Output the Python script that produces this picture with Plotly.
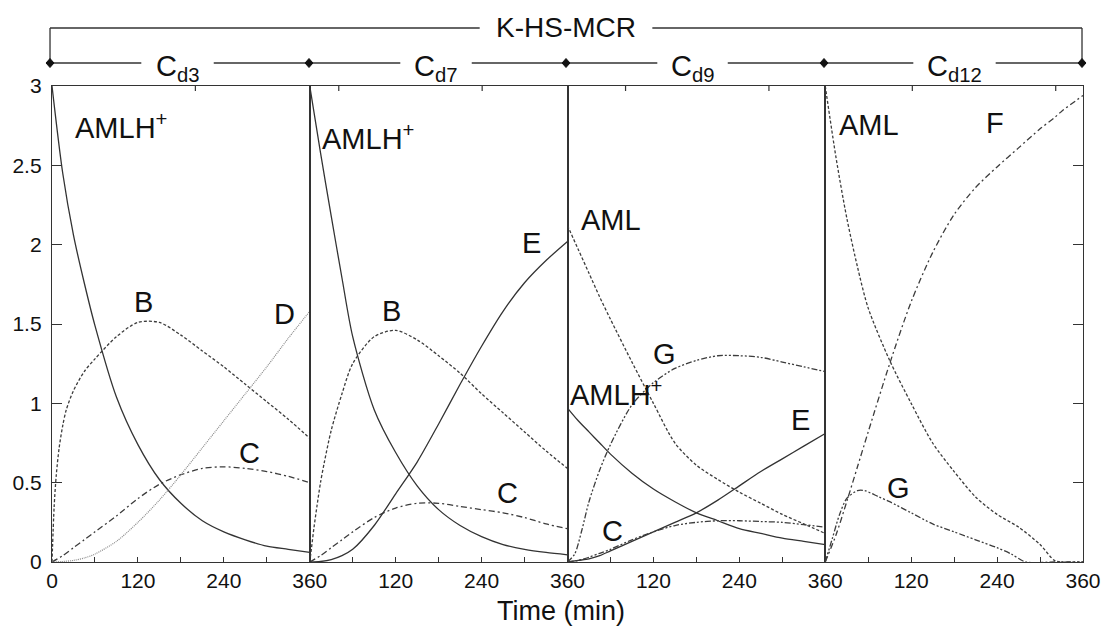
import plotly.graph_objects as go

# ---------------- data ----------------
T = [0, 15, 30, 45, 60, 90, 120, 150, 180, 210, 240, 270, 300, 330, 360]
T_FAST = [0, 3, 6, 10, 15, 20, 30, 45, 60, 90, 120, 150, 180, 210, 240, 270, 300, 330, 360]

# Panel Cd3
p1_AMLH = [3.0, 2.45, 2.06, 1.76, 1.49, 1.04, 0.74, 0.52, 0.37, 0.26, 0.19, 0.14, 0.10, 0.08, 0.06]
p1_B = [0, 0.35, 0.55, 0.72, 0.86, 0.96, 1.08, 1.20, 1.28, 1.42, 1.51, 1.51, 1.43, 1.33, 1.23, 1.12, 1.01, 0.90, 0.78]
p1_C = [0, 0.04, 0.09, 0.14, 0.19, 0.29, 0.40, 0.49, 0.55, 0.59, 0.60, 0.59, 0.57, 0.54, 0.50]
p1_D = [0, 0.003, 0.01, 0.025, 0.05, 0.13, 0.25, 0.39, 0.55, 0.72, 0.89, 1.06, 1.23, 1.41, 1.58]

# Panel Cd7
p2_AMLH = [3.0, 2.58, 2.18, 1.79, 1.42, 0.96, 0.69, 0.48, 0.33, 0.23, 0.16, 0.11, 0.08, 0.06, 0.045]
p2_B = [0, 0.11, 0.22, 0.35, 0.50, 0.62, 0.83, 1.06, 1.25, 1.42, 1.46, 1.40, 1.30, 1.19, 1.06, 0.94, 0.82, 0.70, 0.59]
p2_C = [0, 0.04, 0.09, 0.14, 0.19, 0.28, 0.34, 0.37, 0.37, 0.35, 0.33, 0.31, 0.28, 0.24, 0.21]
p2_E = [0, 0.003, 0.015, 0.04, 0.08, 0.23, 0.43, 0.63, 0.87, 1.12, 1.36, 1.58, 1.76, 1.90, 2.02]

# Panel Cd9
T_G3 = [0, 10, 20, 30, 45, 60, 90, 120, 150, 180, 210, 240, 270, 300, 330, 360]
p3_AML = [2.12, 1.97, 1.82, 1.67, 1.53, 1.26, 1.00, 0.75, 0.61, 0.52, 0.44, 0.37, 0.30, 0.24, 0.18]
p3_AMLH = [0.97, 0.89, 0.82, 0.75, 0.68, 0.56, 0.46, 0.38, 0.31, 0.26, 0.21, 0.18, 0.15, 0.13, 0.11]
p3_E = [0, 0.01, 0.02, 0.04, 0.07, 0.13, 0.19, 0.25, 0.31, 0.39, 0.48, 0.57, 0.65, 0.73, 0.81]
p3_C = [0, 0.01, 0.03, 0.055, 0.08, 0.14, 0.19, 0.23, 0.25, 0.26, 0.26, 0.255, 0.25, 0.235, 0.22]
p3_G = [0, 0.05, 0.20, 0.38, 0.58, 0.74, 0.99, 1.13, 1.22, 1.27, 1.30, 1.30, 1.29, 1.26, 1.23, 1.20]

# Panel Cd12
T4 = [0, 15, 30, 45, 60, 90, 120, 150, 180, 210, 240, 270, 300, 320, 330, 360]
p4_AML = [3.0, 2.55, 2.17, 1.86, 1.60, 1.27, 1.00, 0.75, 0.57, 0.41, 0.30, 0.22, 0.11, 0.01, 0.0, 0.0]
p4_F = [0, 0.17, 0.38, 0.60, 0.82, 1.25, 1.64, 1.95, 2.19, 2.36, 2.49, 2.61, 2.73, 2.80, 2.84, 2.94]
T_G4 = [0, 10, 20, 30, 45, 55, 75, 90, 120, 150, 180, 210, 240, 260, 280, 320, 360]
p4_G = [0, 0.15, 0.30, 0.40, 0.45, 0.45, 0.41, 0.38, 0.31, 0.24, 0.19, 0.14, 0.09, 0.05, 0.0, 0.0, 0.0]

Y_TICKS = [0, 0.5, 1, 1.5, 2, 2.5, 3]
Y_TICKTEXT = ["0", "0.5", "1", "1.5", "2", "2.5", "3"]
X_TICKS_FIRST = [0, 120, 240, 360]
X_TICKS_OTHER = [120, 240, 360]
PANEL_NAMES = ["C<sub>d3</sub>", "C<sub>d7</sub>", "C<sub>d9</sub>", "C<sub>d12</sub>"]
GROUP_NAME = "K-HS-MCR"
X_TITLE = "Time (min)"

# ---------------- styles ----------------
FONT = "Liberation Sans, Arial, sans-serif"
DARK = "#333333"
STY = {
    "solid": dict(color=DARK, width=1.3, dash="solid"),
    "dash": dict(color="#3c3c3c", width=1.3, dash="3px,2px"),
    "dot": dict(color="#8a8a8a", width=1.2, dash="1px,1px"),
    "dashdot": dict(color="#3c3c3c", width=1.3, dash="6px,3px,2px,3px"),
    "dashdotdot": dict(color="#3c3c3c", width=1.3, dash="6px,2px,2px,2px,2px,2px"),
}

fig = go.Figure()


def add(panel, t, y, style):
    xa = "x" if panel == 1 else f"x{panel}"
    ya = "y" if panel == 1 else f"y{panel}"
    ln = dict(STY[style])
    ln["shape"] = "spline"
    ln["smoothing"] = 0.8
    fig.add_trace(go.Scatter(x=t, y=y, xaxis=xa, yaxis=ya, mode="lines",
                             line=ln, showlegend=False, hoverinfo="skip"))


add(1, T, p1_AMLH, "solid")
add(1, T_FAST, p1_B, "dash")
add(1, T, p1_C, "dashdot")
add(1, T, p1_D, "dot")

add(2, T, p2_AMLH, "solid")
add(2, T_FAST, p2_B, "dash")
add(2, T, p2_C, "dashdot")
add(2, T, p2_E, "solid")

add(3, T, p3_AML, "dash")
add(3, T, p3_AMLH, "solid")
add(3, T, p3_E, "solid")
add(3, T, p3_C, "dashdotdot")
add(3, T_G3, p3_G, "dashdotdot")

add(4, T4, p4_AML, "dash")
add(4, T4, p4_F, "dashdot")
add(4, T_G4, p4_G, "dashdotdot")

# ---------------- layout ----------------
W, H = 1113, 633
ML, MR, MT, MB = 47, 27, 86, 71
PW, PH = W - ML - MR, H - MT - MB


def px_x(X):
    return (X - ML) / PW


def px_y(Y):
    return (MT + PH - Y) / PH


layout = dict(
    width=W, height=H,
    margin=dict(l=ML, r=MR, t=MT, b=MB, pad=0),
    paper_bgcolor="white", plot_bgcolor="white",
    font=dict(family=FONT, color="#111111"),
    showlegend=False,
)

for i in range(4):
    key = "xaxis" if i == 0 else f"xaxis{i + 1}"
    yk = "yaxis" if i == 0 else f"yaxis{i + 1}"
    tv = X_TICKS_FIRST if i == 0 else X_TICKS_OTHER
    layout[key] = dict(
        domain=[i / 4, (i + 1) / 4], range=[0, 360],
        anchor="y" if i == 0 else f"y{i + 1}",
        showgrid=False, zeroline=False, showline=True, linecolor=DARK, linewidth=1.3,
        mirror=True, ticks="inside", ticklen=5, tickcolor=DARK, tickwidth=1.2,
        tickmode="array", tickvals=tv, ticktext=[str(v) for v in tv],
        minor=dict(ticks="inside", ticklen=5, tickcolor=DARK, tickwidth=1.2,
                   tick0=0, dtick=60, showgrid=False),
        tickfont=dict(size=21, family=FONT, color="#111111"),
        fixedrange=True,
    )
    ya = dict(
        domain=[0, 1], range=[0, 3],
        anchor="x" if i == 0 else f"x{i + 1}",
        showgrid=False, zeroline=False, showline=True, linecolor=DARK, linewidth=1.3,
        mirror=True, fixedrange=True,
    )
    if i == 0:
        ya.update(ticks="inside", ticklen=10, tickcolor=DARK, tickwidth=1.2,
                  tickvals=Y_TICKS, ticktext=Y_TICKTEXT, ticklabelstandoff=5,
                  tickfont=dict(size=21, family=FONT, color="#111111"))
    elif i == 3:
        ya.update(side="right", ticks="inside", ticklen=10, tickcolor=DARK, tickwidth=1.2,
                  tickvals=Y_TICKS, showticklabels=False)
    else:
        ya.update(ticks="", showticklabels=False)
    layout[yk] = ya

fig.update_layout(**layout)

# ---------------- decorations ----------------
shapes = []
LC = dict(color=DARK, width=1.3)

# top-edge tick marks (they follow their own spacing in the original)
TOP_TICK_STEP = 144.5
for k in range(1, 8):
    X = ML + k * TOP_TICK_STEP
    shapes.append(dict(type="line", xref="paper", yref="paper", x0=px_x(X), x1=px_x(X),
                       y0=1, y1=px_y(MT + 5), line=dict(color=DARK, width=1.2)))

Y_TOP, Y_MID = 28, 63
X_LEFT, X_RIGHT = 45, 1085
shapes.append(dict(type="line", xref="paper", yref="paper", x0=px_x(X_LEFT), x1=px_x(478),
                   y0=px_y(Y_TOP), y1=px_y(Y_TOP), line=LC))
shapes.append(dict(type="line", xref="paper", yref="paper", x0=px_x(652), x1=px_x(X_RIGHT),
                   y0=px_y(Y_TOP), y1=px_y(Y_TOP), line=LC))
for X in (X_LEFT, X_RIGHT):
    shapes.append(dict(type="line", xref="paper", yref="paper", x0=px_x(X), x1=px_x(X),
                       y0=px_y(Y_TOP), y1=px_y(Y_MID), line=LC))
DIAMONDS = [X_LEFT, 306, 565, 825, X_RIGHT]
GAPS = [(137, 210), (398, 470), (657, 728), (915, 998)]
for k in range(4):
    a, b = DIAMONDS[k], DIAMONDS[k + 1]
    g0, g1 = GAPS[k]
    for s0, s1 in ((a, g0), (g1, b)):
        shapes.append(dict(type="line", xref="paper", yref="paper", x0=px_x(s0), x1=px_x(s1),
                           y0=px_y(Y_MID), y1=px_y(Y_MID), line=LC))
for X in DIAMONDS:
    hx, hy = 4 / PW, 4.5 / PH
    cx, cy = px_x(X), px_y(Y_MID)
    shapes.append(dict(type="path", xref="paper", yref="paper",
                       path=f"M {cx - hx} {cy} L {cx} {cy + hy} L {cx + hx} {cy} L {cx} {cy - hy} Z",
                       fillcolor="#111111", line=dict(color="#111111", width=1)))
fig.update_layout(shapes=shapes)

ann = []
ann.append(dict(text=GROUP_NAME, xref="paper", yref="paper", x=px_x(565), y=px_y(Y_TOP),
                xanchor="center", yanchor="middle", showarrow=False,
                font=dict(size=28, family=FONT, color="#111111")))
for k, name in enumerate(PANEL_NAMES):
    g0, g1 = GAPS[k]
    ann.append(dict(text=name, xref="paper", yref="paper", x=px_x((g0 + g1) / 2), y=px_y(Y_MID + 5),
                    xanchor="center", yanchor="middle", showarrow=False,
                    font=dict(size=29, family=FONT, color="#111111")))
ann.append(dict(text=X_TITLE, xref="paper", yref="paper", x=px_x(560), y=px_y(611),
                xanchor="center", yanchor="middle", showarrow=False,
                font=dict(size=27, family=FONT, color="#111111")))

LAB = 29
labels = [
    (1, "AMLH<sup>+</sup>", 30, 2.75, "left"),
    (1, "B", 128, 1.64, "center"),
    (1, "D", 325, 1.56, "center"),
    (1, "C", 276, 0.69, "center"),
    (2, "AMLH<sup>+</sup>", 14, 2.68, "left"),
    (2, "B", 114, 1.58, "center"),
    (2, "E", 310, 2.01, "center"),
    (2, "C", 276, 0.435, "center"),
    (3, "AML", 15.5, 2.155, "left"),
    (3, "G", 136, 1.31, "center"),
    (3, "AMLH<sup>+</sup>", 0.5, 1.065, "left"),
    (3, "E", 325, 0.895, "center"),
    (3, "C", 63, 0.195, "center"),
    (4, "AML", 16.5, 2.757, "left"),
    (4, "F", 236.5, 2.764, "center"),
    (4, "G", 102, 0.466, "center"),
]
for p, txt, x, y, xa in labels:
    ann.append(dict(text=txt, xref="x" if p == 1 else f"x{p}", yref="y" if p == 1 else f"y{p}",
                    x=x, y=y, xanchor=xa, yanchor="middle", showarrow=False,
                    font=dict(size=LAB, family=FONT, color="#111111")))
fig.update_layout(annotations=ann)

fig.write_html("out.html")
